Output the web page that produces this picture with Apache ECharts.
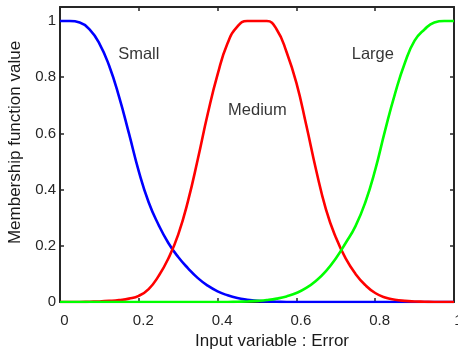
<!DOCTYPE html>
<html>
<head>
<meta charset="utf-8">
<script src="https://cdn.jsdelivr.net/npm/echarts@6/dist/echarts.min.js"></script>
<style>
  html, body { margin: 0; padding: 0; background: #fff; }
  #chart { width: 458px; height: 355px; }
</style>
</head>
<body>
<div id="chart"></div>
<script>
// Input grid for the membership functions (step 0.025 over [0, 1])
const inputX = [
  0, 0.025, 0.05, 0.075, 0.1, 0.125, 0.15, 0.175, 0.2, 0.225,
  0.25, 0.275, 0.3, 0.325, 0.35, 0.375, 0.4, 0.425, 0.45, 0.475,
  0.5, 0.525, 0.55, 0.575, 0.6, 0.625, 0.65, 0.675, 0.7, 0.725,
  0.75, 0.775, 0.8, 0.825, 0.85, 0.875, 0.9, 0.925, 0.95, 0.975, 1
];

// Membership degrees of each fuzzy set at the points above
const smallMf = [
  1, 1, 0.995, 0.97, 0.92, 0.84, 0.73, 0.6, 0.465, 0.355,
  0.275, 0.21, 0.16, 0.12, 0.085, 0.058, 0.038, 0.024, 0.014, 0.008,
  0.004, 0.002, 0.001, 0, 0, 0, 0, 0, 0, 0,
  0, 0, 0, 0, 0, 0, 0, 0, 0, 0, 0
];
const mediumMf = [
  0, 0, 0, 0.001, 0.002, 0.004, 0.007, 0.012, 0.022, 0.046,
  0.092, 0.155, 0.24, 0.36, 0.51, 0.67, 0.81, 0.92, 0.98, 1,
  1, 1, 0.97, 0.89, 0.78, 0.63, 0.47, 0.33, 0.23, 0.155,
  0.1, 0.06, 0.032, 0.016, 0.008, 0.004, 0.002, 0.001, 0, 0, 0
];
const largeMf = [
  0, 0, 0, 0, 0, 0, 0, 0, 0, 0,
  0, 0, 0, 0, 0, 0, 0, 0, 0.001, 0.002,
  0.004, 0.007, 0.012, 0.02, 0.032, 0.05, 0.076, 0.11, 0.155, 0.21,
  0.27, 0.355, 0.47, 0.61, 0.74, 0.85, 0.93, 0.97, 0.995, 1, 1
];

// Set names written inside the plot, at data coordinates
const setNames = ['Small', 'Medium', 'Large'];
const setNameX = [0.2, 0.501, 0.794];
const setNameY = [0.88, 0.68, 0.88];

const xTicks = [0, 0.2, 0.4, 0.6, 0.8, 1];
const yTicks = [0, 0.2, 0.4, 0.6, 0.8, 1];

const FONT = '"Liberation Sans", Arial, sans-serif';
const INK = '#262626';

const pairs = ys => inputX.map((x, i) => [x, ys[i]]);

const baseAxis = {
  type: 'value',
  splitLine: { show: false },
  axisLine: { show: true, onZero: false, lineStyle: { color: INK, width: 2 } },
  axisTick: { show: true, inside: true, length: 4, lineStyle: { color: INK, width: 1.5 } }
};

const chart = echarts.init(document.getElementById('chart'), null, { renderer: 'canvas' });

const curve = (name, ys, color, z) => ({
  name, type: 'line', data: pairs(ys),
  showSymbol: false, smooth: 0.5,
  lineStyle: { color, width: 2.6 }, z
});

chart.setOption({
  animation: false,
  backgroundColor: '#ffffff',
  grid: {
    left: 60, right: 4, top: 7, bottom: 53,
    containLabel: false, outerBoundsMode: 'none'
  },
  xAxis: [
    Object.assign({}, baseAxis, {
      position: 'bottom', min: 0, max: 1, interval: 0.2,
      axisTick: Object.assign({}, baseAxis.axisTick, { customValues: xTicks }),
      axisLabel: {
        customValues: xTicks, fontFamily: FONT, fontSize: 15, color: INK,
        margin: 11, padding: [0, 0, 0, 9]
      },
      name: 'Input variable : Error', nameLocation: 'middle', nameGap: 27,
      nameTextStyle: { fontFamily: FONT, fontSize: 17, color: '#1a1a1a', padding: [0, 0, 0, 30] }
    }),
    Object.assign({}, baseAxis, {
      position: 'top', min: 0, max: 1, interval: 0.2,
      axisTick: Object.assign({}, baseAxis.axisTick, { customValues: xTicks }),
      axisLabel: { show: false }
    })
  ],
  yAxis: [
    Object.assign({}, baseAxis, {
      position: 'left', min: 0, max: 1.05, interval: 0.2,
      axisTick: Object.assign({}, baseAxis.axisTick, { customValues: yTicks }),
      axisLabel: { customValues: yTicks, fontFamily: FONT, fontSize: 15, color: INK, margin: 4 },
      name: 'Membership function value', nameLocation: 'middle', nameGap: 30,
      nameTextStyle: { fontFamily: FONT, fontSize: 17, color: '#1a1a1a', padding: [0, 0, 0, 24] }
    }),
    Object.assign({}, baseAxis, {
      position: 'right', min: 0, max: 1.05, interval: 0.2,
      axisTick: Object.assign({}, baseAxis.axisTick, { customValues: yTicks }),
      axisLabel: { show: false }
    })
  ],
  series: [
    curve('Small', smallMf, '#0000ff', 2),
    curve('Medium', mediumMf, '#ff0000', 3),
    curve('Large', largeMf, '#00ff00', 4),
    {
      name: 'set names', type: 'scatter', symbolSize: 0, silent: true,
      data: setNames.map((n, i) => ({ name: n, value: [setNameX[i], setNameY[i]] })),
      label: {
        show: true, position: 'inside', formatter: p => p.name,
        fontFamily: FONT, fontSize: 16.5, color: '#000000'
      },
      z: 5
    }
  ]
});
</script>
</body>
</html>
